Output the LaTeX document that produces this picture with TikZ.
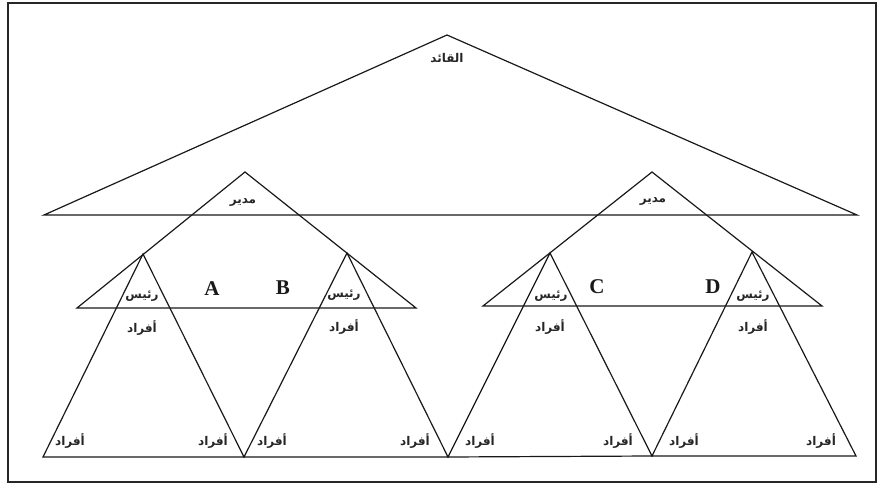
\documentclass[tikz,border=0pt]{standalone}
\usepackage{fontspec}
\setmainfont{Liberation Serif}
\newfontfamily\arabicfont[Script=Arabic]{DejaVu Sans}
\TeXXeTstate=1
\begin{document}
\begin{tikzpicture}[x=1pt,y=-1pt,
  tri/.style={draw=black!90, line width=1.2pt, line join=miter},
  frame/.style={draw=black!85, line width=1.5pt},
  ar/.style={font=\arabicfont\bfseries\fontsize{12}{14}\selectfont, inner sep=0pt, text=black!85},
  letter/.style={font=\bfseries\fontsize{21}{24}\selectfont, inner sep=0pt, text=black!90}]
\useasboundingbox (0,0) rectangle (884,489);
\fill[white] (0,0) rectangle (884,489);
\draw[frame] (8,3) rectangle (876,482);
% vertices
\coordinate (top) at (447,35);
\coordinate (bl) at (44,215);
\coordinate (br) at (857,215);
\coordinate (m1) at (245,172);
\coordinate (m1l) at (77,308);
\coordinate (m1r) at (416,308);
\coordinate (m2) at (652,172);
\coordinate (m2l) at (483,306);
\coordinate (m2r) at (822,306);
\coordinate (s1) at (143,254);
\coordinate (s2) at (347,253);
\coordinate (s3) at (550,253);
\coordinate (s4) at (752,252);
\coordinate (b0) at (43,457);
\coordinate (b1) at (244,457);
\coordinate (b2) at (448,457);
\coordinate (b3) at (652,456);
\coordinate (b4) at (856,456);
% triangles
\draw[tri] (top) -- (br) -- (bl) -- cycle;
\draw[tri] (m1) -- (m1r) -- (m1l) -- cycle;
\draw[tri] (m2) -- (m2r) -- (m2l) -- cycle;
\draw[tri] (s1) -- (b1) -- (b0) -- cycle;
\draw[tri] (s2) -- (b2) -- (b1) -- cycle;
\draw[tri] (s3) -- (b3) -- (b2) -- cycle;
\draw[tri] (s4) -- (b4) -- (b3) -- cycle;
% labels
\node[ar] (lq) at (447,58) {\beginR القائد\endR};
\node[ar] (lm1) at (243,202) {\beginR مدير\endR};
\node[ar] (lm2) at (653,201) {\beginR مدير\endR};
\node[ar] (r1) at (142,296) {\beginR رئيس\endR};
\node[ar] (r2) at (344,295) {\beginR رئيس\endR};
\node[ar] (r3) at (551,296) {\beginR رئيس\endR};
\node[ar] (r4) at (753,296) {\beginR رئيس\endR};
\node[ar] (f1) at (142,328) {\beginR أفراد\endR};
\node[ar] (f2) at (344,327) {\beginR أفراد\endR};
\node[ar] (f3) at (550,327) {\beginR أفراد\endR};
\node[ar] (f4) at (753,327) {\beginR أفراد\endR};
\node[ar] (g1) at (70,441) {\beginR أفراد\endR};
\node[ar] (g2) at (213,441) {\beginR أفراد\endR};
\node[ar] (g3) at (272,441) {\beginR أفراد\endR};
\node[ar] (g4) at (415,441) {\beginR أفراد\endR};
\node[ar] (g5) at (480,441) {\beginR أفراد\endR};
\node[ar] (g6) at (618,441) {\beginR أفراد\endR};
\node[ar] (g7) at (684,441) {\beginR أفراد\endR};
\node[ar] (g8) at (821,441) {\beginR أفراد\endR};
\node[letter] (A) at (212,289) {A};
\node[letter] (B) at (283,288) {B};
\node[letter] (C) at (597,287) {C};
\node[letter] (D) at (713,287) {D};
\end{tikzpicture}
\end{document}
